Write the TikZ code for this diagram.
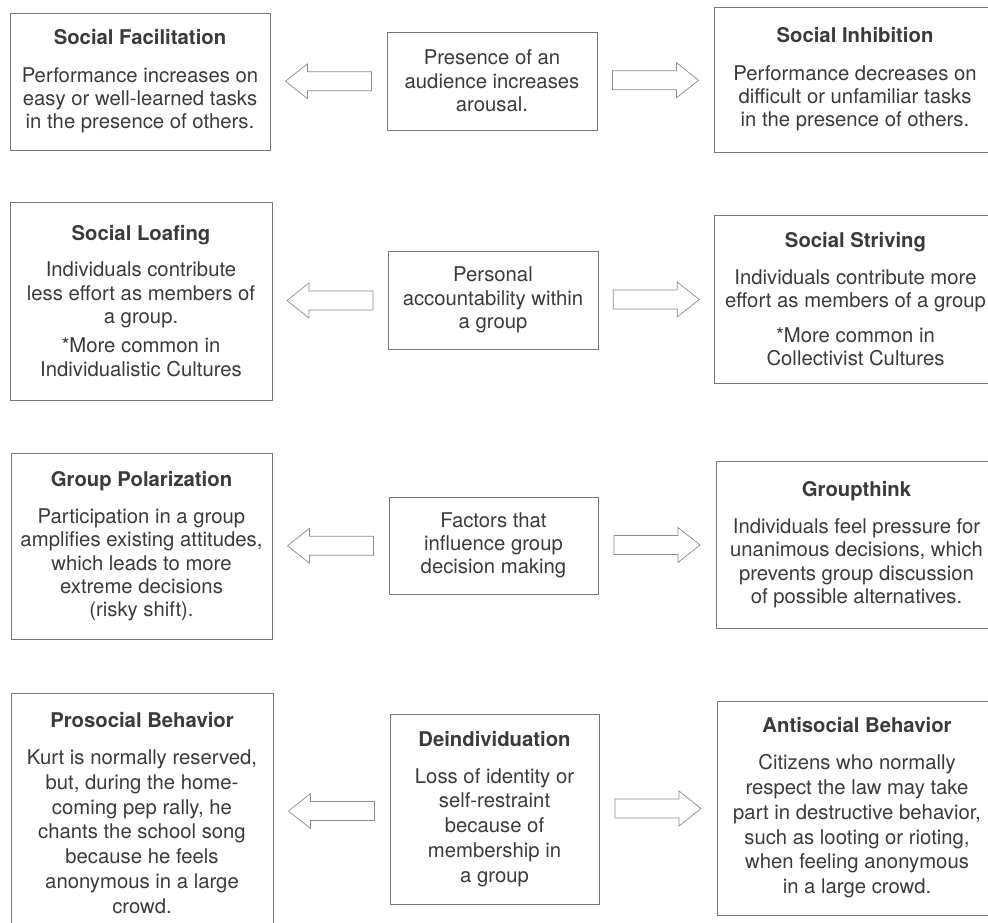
\documentclass[tikz,border=0pt]{standalone}
\usepackage{fontspec}
\setmainfont{TeX Gyre Heros}
\usepackage{xcolor}
\usepackage{tikz}
\usetikzlibrary{calc, positioning}

\definecolor{ink}{HTML}{3A3A3A}
\definecolor{frame}{HTML}{767676}

\begin{document}
\begin{tikzpicture}[x=1pt, y=-1pt,
    box/.style={draw=frame, line width=0.8pt, rectangle, align=center, text=ink,
        inner sep=0pt, font=\fontsize{20.3}{23.3}\selectfont},
    tallbox/.style={box, font=\fontsize{20.3}{24.8}\selectfont},
    hollow/.style={draw=frame!85, line width=0.7pt, line join=miter},
    blockarrow/.pic={\draw[hollow] (-43,-9.5) -- (21,-9.5) -- (21,-17.5) -- (43,0)
        -- (21,17.5) -- (21,9.5) -- (-43,9.5) -- cycle;}]
    \useasboundingbox (0,0) rectangle (988,923);
    \clip (0,0) rectangle (988,923);

    % Hàng 1: sự có mặt của khán giả
    \node[box, minimum width=260pt, minimum height=137pt] (fac) at (140,81.5)
        {\textbf{Social Facilitation}\\[14pt]Performance increases on\\easy or well-learned tasks\\in the presence of others.};
    \node[box, minimum width=210pt, minimum height=98pt] (aud) at (492,81)
        {Presence of an\\audience increases\\arousal.};
    \node[box, minimum width=282pt, minimum height=145pt] (inh) at (855,79.5)
        {\textbf{Social Inhibition}\\[14pt]Performance decreases on\\difficult or unfamiliar tasks\\in the presence of others.};

    % Hàng 2: trách nhiệm cá nhân
    \node[box, minimum width=262pt, minimum height=198pt] (loaf) at (141,301)
        {\textbf{Social Loafing}\\[13pt]Individuals contribute\\less effort as members of\\a group.\\[6pt]*More common in\\Individualistic Cultures};
    \node[box, minimum width=210pt, minimum height=98pt] (acc) at (493,300)
        {Personal\\accountability within\\a group};
    \node[box, minimum width=282pt, minimum height=168pt] (striv) at (855.5,299)
        {\textbf{Social Striving}\\[14pt]Individuals contribute more\\effort as members of a group\\[11pt]*More common in\\Collectivist Cultures};

    % Hàng 3: ra quyết định nhóm
    \node[box, minimum width=261pt, minimum height=186pt] (pol) at (141.5,546)
        {\textbf{Group Polarization}\\[14pt]Participation in a group\\amplifies existing attitudes,\\which leads to more\\extreme decisions\\(risky shift).};
    \node[box, minimum width=209pt, minimum height=97pt] (dec) at (493.5,545.5)
        {Factors that\\influence group\\decision making};
    \node[box, minimum width=281pt, minimum height=167pt] (gthink) at (856.5,544.5)
        {\textbf{Groupthink}\\[14pt]Individuals feel pressure for\\unanimous decisions, which\\prevents group discussion\\of possible alternatives.};

    % Hàng 4: phi cá nhân hóa
    \node[tallbox, minimum width=262pt, minimum height=240pt] (pro) at (142,813)
        {\textbf{Prosocial Behavior}\\[12pt]Kurt is normally reserved,\\but, during the home-\\coming pep rally, he\\chants the school song\\because he feels\\anonymous in a large\\crowd.};
    \node[tallbox, minimum width=209pt, minimum height=190pt] (dein) at (494.5,809)
        {\textbf{Deindividuation}\\[12pt]Loss of identity or\\self-restraint\\because of\\membership in\\a group};
    \node[tallbox, minimum width=280pt, minimum height=214pt] (anti) at (857,808)
        {\textbf{Antisocial Behavior}\\[12pt]Citizens who normally\\respect the law may take\\part in destructive behavior,\\such as looting or rioting,\\when feeling anonymous\\in a large crowd.};

    % Mũi tên rỗng
    \pic[rotate=180] at ($(fac.east)!0.5!(aud.west)$) {blockarrow};
    \pic at ($(aud.east)!0.5!(inh.west)$) {blockarrow};
    \pic[rotate=180] at ($(loaf.east)!0.5!(acc.west)$) {blockarrow};
    \pic at ($(acc.east)!0.5!(striv.west)$) {blockarrow};
    \pic[rotate=180] at ($(pol.east)!0.5!(dec.west)$) {blockarrow};
    \pic at ($(dec.east)!0.5!(gthink.west)$) {blockarrow};
    \pic[rotate=180] at ($(pro.east)!0.5!(dein.west)$) {blockarrow};
    \pic at ($(dein.east)!0.5!(anti.west)$) {blockarrow};
\end{tikzpicture}
\end{document}
